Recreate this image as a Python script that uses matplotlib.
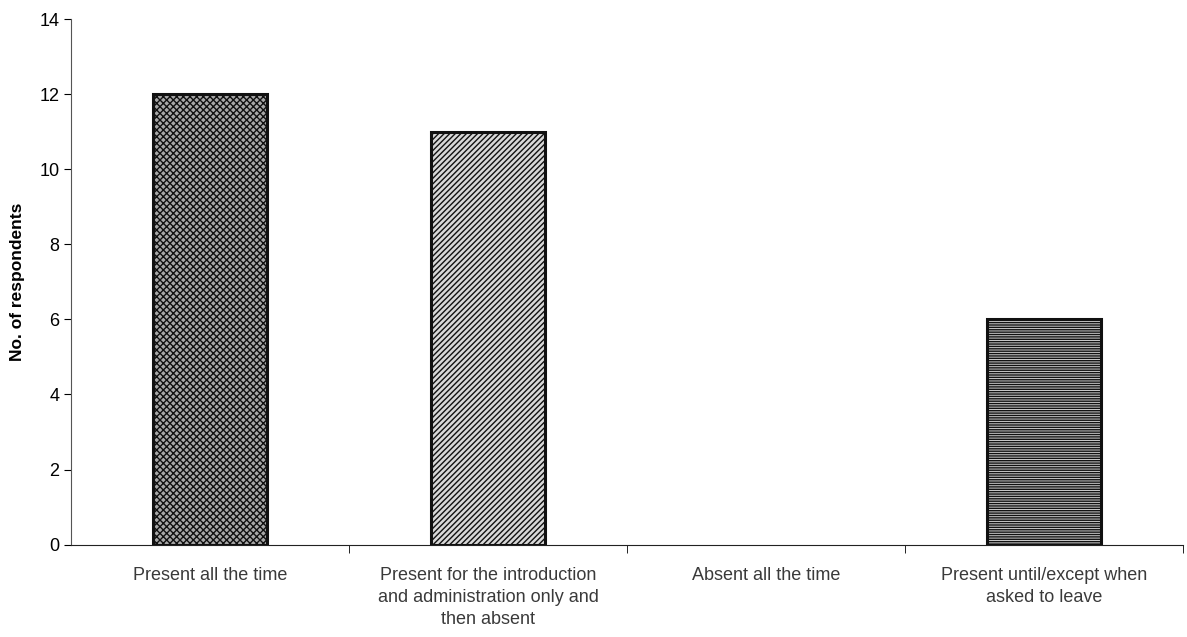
import numpy as np
import matplotlib.pyplot as plt

plt.rcParams['font.family'] = ['Liberation Sans', 'DejaVu Sans']
plt.rcParams['hatch.linewidth'] = 1.0

categories = ['Present all the time',
              'Present for the introduction\nand administration only and\nthen absent',
              'Absent all the time',
              'Present until/except when\nasked to leave']
counts = [12, 11, 0, 6]
hatches = ['xxxxx', '//////', '', '-------']
faces = ['#a8a8a8', '#d8d8d8', 'white', '#cccccc']

fig = plt.figure(figsize=(11.87, 6.37), dpi=100)
ax = fig.add_axes([0.06, 0.145, 0.937, 0.825])

x = np.arange(len(categories))
for xi, c, h, f in zip(x, counts, hatches, faces):
    if c == 0:
        continue
    ax.bar(xi, c, width=0.41, color=f, hatch=h, edgecolor='#111111', linewidth=2.2)

ax.set_xlim(-0.5, len(categories) - 0.5)
ax.set_ylim(0, 14)
ax.set_yticks(range(0, 15, 2))
ax.set_xticks(x)
ax.set_xticklabels(categories, fontsize=13, color='#3a3a3a', linespacing=1.4)
ax.set_xticks(np.arange(0.5, len(categories) - 0.5 + 1, 1.0), minor=True)
ax.tick_params(axis='x', which='major', length=0, pad=16)
ax.tick_params(axis='x', which='minor', length=6, direction='out')
ax.tick_params(axis='y', labelsize=13, length=5)
ax.set_ylabel('No. of respondents', fontsize=12.5, fontweight='bold', labelpad=10)

ax.spines['top'].set_visible(False)
ax.spines['right'].set_visible(False)
ax.spines['left'].set_color('#555555')
ax.spines['bottom'].set_color('#222222')

fig.savefig('out.png', dpi=100)
